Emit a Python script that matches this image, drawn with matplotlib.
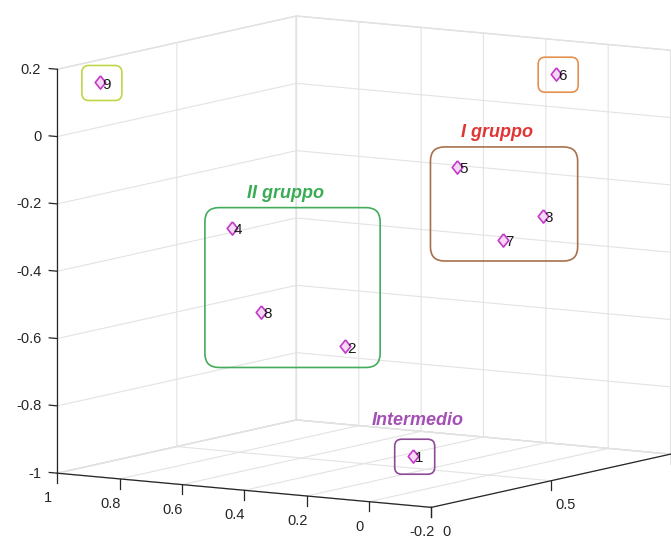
import matplotlib.pyplot as plt
from matplotlib.patches import FancyBboxPatch
from matplotlib.transforms import IdentityTransform
from mpl_toolkits.mplot3d import proj3d

# coordinate dei 9 campioni
etichette = ["1", "2", "3", "4", "5", "6", "7", "8", "9"]
xs = [0.09, 0.23, -0.02, 0.67, 0.33, 0.09, 0.03, 0.50, 0.94]
ys = [0.30, 0.20, 0.70, 0.30, 0.80, 0.90, 0.60, 0.20, 0.10]
zs = [-0.92, -0.59, -0.26, -0.29, -0.16, 0.12, -0.32, -0.51, 0.15]

x_ticks = [-0.2, 0, 0.2, 0.4, 0.6, 0.8, 1]
x_labels = ["-0.2", "0", "0.2", "0.4", "0.6", "0.8", "1"]
y_ticks = [0, 0.5, 1]
y_labels = ["0", "0.5", "1"]
z_ticks = [-1, -0.8, -0.6, -0.4, -0.2, 0, 0.2]
z_labels = ["-1", "-0.8", "-0.6", "-0.4", "-0.2", "0", "0.2"]

# gruppi evidenziati: membri, colore riquadro, titolo, colore titolo
gruppi = [
    (["2", "4", "8"], "#43ad5c", "II gruppo", "#3aac55"),
    (["3", "5", "7"], "#a8714c", "I gruppo", "#e03535"),
    (["1"], "#8d4a97", "Intermedio", "#a44fb5"),
    (["9"], "#bcd84a", None, None),
    (["6"], "#e6904f", None, None),
]

plt.rcParams["font.family"] = ["Liberation Sans", "DejaVu Sans"]

fig = plt.figure(figsize=(6.71, 5.47), dpi=100)
ax = fig.add_subplot(projection="3d", proj_type="ortho")
ax.set_position([-0.122, -0.146, 1.3, 1.3])
ax.view_init(elev=8.2, azim=-57.35)
ax.set_box_aspect((442, 441, 406), zoom=1.022)

ax.set_xlim(1, -0.2)
ax.set_ylim(0, 1)
ax.set_zlim(-1, 0.2)
ax.set_xticks(x_ticks, x_labels)
ax.set_yticks(y_ticks, y_labels)
ax.set_zticks(z_ticks, z_labels)
ax.zaxis.set_ticks_position("lower")

# tacche verticali su x e y, orizzontali su z
ax.xaxis._get_tickdir = lambda pos: 2
ax.yaxis._get_tickdir = lambda pos: 2
ax.zaxis._get_tickdir = lambda pos: 0

for axis in (ax.xaxis, ax.yaxis, ax.zaxis):
    axis.set_pane_color((1, 1, 1, 1))
    axis.pane.set_edgecolor("#dcdcdc")
    axis._axinfo["grid"].update(color="#e3e3e3", linewidth=0.8)
    axis._axinfo["tick"].update(inward_factor=0.0, outward_factor=0.3,
                                linewidth={True: 0.9, False: 0.5})
    axis.line.set_color("#262626")
    axis.line.set_linewidth(0.9)
    axis.set_tick_params(labelsize=10.5, colors="#262626", pad=2.5)
ax.zaxis._axinfo["tick"]["outward_factor"] = 0.27
ax.zaxis.set_tick_params(pad=-1)
for t in ax.zaxis.get_major_ticks():
    t.label1.set_horizontalalignment("right")
    t.label1.set_verticalalignment("center")

# rombo un po' più largo del marker "d"
rombo = [(0, 1), (0.8, 0), (0, -1), (-0.8, 0), (0, 1)]
ax.plot(xs, ys, zs, linestyle="none", marker=rombo, markersize=9.5,
        markerfacecolor="#f6d8f6", markeredgecolor="#c13bc8",
        markeredgewidth=1.2)

# posizioni proiettate nel piano dell'asse
M = ax.get_proj()
px, py, _ = proj3d.proj_transform(xs, ys, zs, M)
for lab, x2, y2 in zip(etichette, px, py):
    ax.annotate(lab, (x2, y2), xytext=(1.5, -1.5), textcoords="offset points",
                ha="left", va="center", fontsize=11, color="#1a1a1a")

fig.canvas.draw()
disp = dict(zip(etichette, ax.transData.transform(list(zip(px, py)))))

for membri, col, titolo, col_titolo in gruppi:
    pts = [disp[m] for m in membri]
    x0 = min(p[0] for p in pts)
    x1 = max(p[0] for p in pts)
    y0 = min(p[1] for p in pts)
    y1 = max(p[1] for p in pts)
    if len(membri) > 1:
        l, r, b, t, rad = 27, 35, 21, 20, 14
        dx, dy = -7, 14
    else:
        l, r, b, t, rad = 18, 22, 18, 17, 7
        dx, dy = 3, 19
    box = FancyBboxPatch((x0 - l, y0 - b), x1 - x0 + l + r, y1 - y0 + b + t,
                         boxstyle=f"round,pad=0,rounding_size={rad}",
                         transform=IdentityTransform(), facecolor="none",
                         edgecolor=col, linewidth=1.2)
    fig.add_artist(box)
    if titolo:
        cx = (x0 - l + x1 + r) / 2 + dx
        fig.text(cx / fig.dpi / fig.get_figwidth(),
                 (y1 + t + dy) / fig.dpi / fig.get_figheight(),
                 titolo, ha="center", va="center", fontsize=13,
                 fontweight="bold", fontstyle="italic", color=col_titolo)

fig.savefig("out.png", dpi=100)
